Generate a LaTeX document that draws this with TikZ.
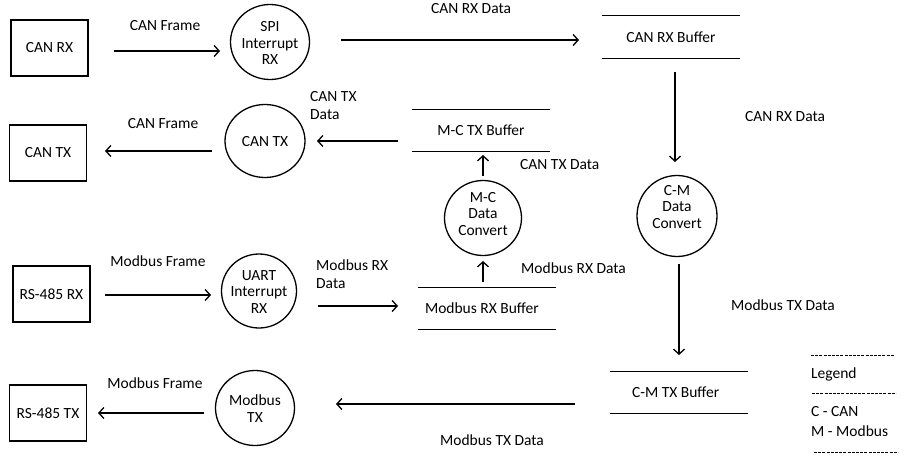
\documentclass[tikz,border=0pt]{standalone}
\usepackage{fontspec}
\setmainfont{Carlito}
\usetikzlibrary{arrows.meta}
\begin{document}
\begin{tikzpicture}[x=1pt,y=-1pt,
  every node/.style={font=\fontsize{15.5}{16.8}\selectfont, inner sep=0pt, align=center},
  ent/.style={draw, line width=1.3pt, minimum width=77pt, minimum height=56pt},
  procline/.style={line width=1.3pt},
  flow/.style={line width=1.3pt, -{Straight Barb[length=5pt,width=11pt,line width=1.3pt]}},
  storeline/.style={line width=1.3pt},
  twoline/.style={align=left, font=\fontsize{15.5}{18}\selectfont},
  legline/.style={line width=0.6pt, dash pattern=on 3pt off 1.2pt}]
\useasboundingbox (0,0) rectangle (905,460);

% external entities
\node[ent] (canrx) at (49.5,48) {CAN RX};
\node[ent] (cantxb) at (48,153) {CAN TX};
\node[ent] (rsrx) at (51.5,294) {RS-485 RX};
\node[ent] (rstx) at (48,413) {RS-485 TX};

% processes
\node (spi) at (270,43) {SPI\\Interrupt\\RX};
\draw[procline] (270,42) ellipse [x radius=39.5, y radius=37.5];
\node (cantx) at (265,142) {CAN TX};
\draw[procline] (265,141) ellipse [x radius=40, y radius=36.5];
\node (uart) at (259,292) {UART\\Interrupt\\RX};
\draw[procline] (259,291) ellipse [x radius=37.5, y radius=37];
\node (mbtx) at (255,409) {Modbus\\TX};
\draw[procline] (255,408) ellipse [x radius=39.5, y radius=37.5];
\node (mc) at (483,214) {M-C\\Data\\Convert};
\draw[procline] (483,218) ellipse [x radius=38.5, y radius=37.5];
\node (cm) at (677,207) {C-M\\Data\\Convert};
\draw[procline] (677,216) ellipse [x radius=40, y radius=40.5];

% data stores
\node[minimum width=138pt, minimum height=42pt] (canrxbuf) at (671,37) {CAN RX Buffer};
\draw[storeline] (canrxbuf.north west) -- (canrxbuf.north east) (canrxbuf.south west) -- (canrxbuf.south east);
\node[minimum width=138pt, minimum height=41pt] (mctxbuf) at (481,130.5) {M-C TX Buffer};
\draw[storeline] (mctxbuf.north west) -- (mctxbuf.north east) (mctxbuf.south west) -- (mctxbuf.south east);
\node[minimum width=138pt, minimum height=41pt, text width=138pt, align=flush left] (mbrxbuf) at (487,308.5) {\hspace*{7pt}Modbus RX Buffer};
\draw[storeline] (mbrxbuf.north west) -- (mbrxbuf.north east) (mbrxbuf.south west) -- (mbrxbuf.south east);
\node[minimum width=138pt, minimum height=41pt, text width=138pt, align=flush left] (cmtxbuf) at (679,392.5) {\hspace*{22pt}C-M TX Buffer};
\draw[storeline] (cmtxbuf.north west) -- (cmtxbuf.north east) (cmtxbuf.south west) -- (cmtxbuf.south east);

% flow end points
\coordinate (a1s) at (114,51);  \coordinate (a1e) at (220,51);
\coordinate (a2s) at (341,40);  \coordinate (a2e) at (579,40);
\coordinate (a3s) at (675,72);  \coordinate (a3e) at (675,162);
\coordinate (a4s) at (679,264); \coordinate (a4e) at (679,355);
\coordinate (a5s) at (575,404); \coordinate (a5e) at (336,404);
\coordinate (a6s) at (204,413); \coordinate (a6e) at (98,413);
\coordinate (a7s) at (105,295); \coordinate (a7e) at (211,295);
\coordinate (a8s) at (318,306); \coordinate (a8e) at (398,306);
\coordinate (a9s) at (483,282); \coordinate (a9e) at (483,261);
\coordinate (a10s) at (483,176); \coordinate (a10e) at (483,155);
\coordinate (a11s) at (398,141); \coordinate (a11e) at (317,141);
\coordinate (a12s) at (212,151); \coordinate (a12e) at (105,151);

\draw[flow] (a1s) -- (a1e);
\draw[flow] (a2s) -- (a2e);
\draw[flow] (a3s) -- (a3e);
\draw[flow] (a4s) -- (a4e);
\draw[flow] (a5s) -- (a5e);
\draw[flow] (a6s) -- (a6e);
\draw[flow] (a7s) -- (a7e);
\draw[flow] (a8s) -- (a8e);
\draw[flow] (a9s) -- (a9e);
\draw[flow] (a10s) -- (a10e);
\draw[flow] (a11s) -- (a11e);
\draw[flow] (a12s) -- (a12e);

% flow labels
\node (l1) at (165,26) {CAN Frame};
\node (l2) at (471,9) {CAN RX Data};
\node (l3) at (785,117) {CAN RX Data};
\node (l4) at (783,305) {Modbus TX Data};
\node (l5) at (492,440) {Modbus TX Data};
\node (l6) at (155,383) {Modbus Frame};
\node (l7) at (158,261) {Modbus Frame};
\node[twoline, anchor=west] (l8) at (316,274) {Modbus RX\\Data};
\node[anchor=west] (l9) at (521,268) {Modbus RX Data};
\node[anchor=west] (l10) at (520,165) {CAN TX Data};
\node[twoline, anchor=west] (l11) at (310,106) {CAN TX\\Data};
\node (l12) at (163,124) {CAN Frame};

% legend
\draw[legline] (811,355) -- (894,355);
\node[anchor=west] (leg1) at (811,374) {Legend};
\draw[legline] (812,393) -- (896,393);
\node[anchor=west] (leg2) at (811,412) {C - CAN};
\node[anchor=west] (leg3) at (811,431) {M - Modbus};
\draw[legline] (814,452) -- (898,452);
\end{tikzpicture}
\end{document}
